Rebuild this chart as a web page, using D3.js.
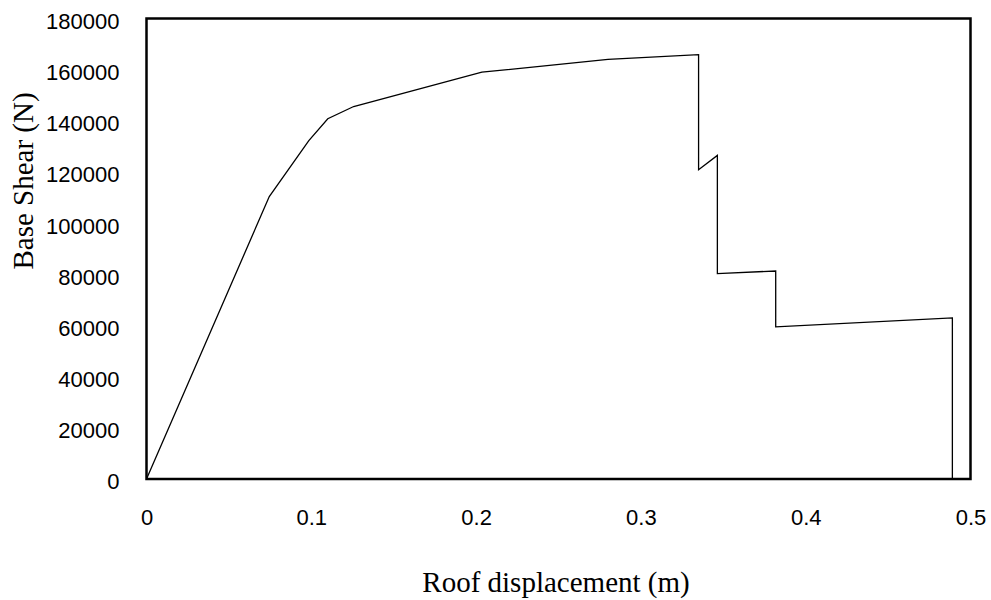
<!DOCTYPE html>
<html>
<head>
<meta charset="utf-8">
<script src="https://cdn.jsdelivr.net/npm/d3@7"></script>
<style>
  html, body { margin: 0; padding: 0; background: #fff; }
  svg { display: block; }
</style>
</head>
<body>
<svg id="chart" width="991" height="600"></svg>
<script>
const dispX = [0, 0.0745, 0.0985, 0.110, 0.1257, 0.2035, 0.28, 0.335, 0.335, 0.3464, 0.3464, 0.3818, 0.3818, 0.489, 0.489];
const shearY = [0, 110400, 132300, 140800, 145600, 159000, 164000, 165900, 120900, 126500, 80300, 81300, 59500, 63000, 0];
const xTicks = [0, 0.1, 0.2, 0.3, 0.4, 0.5];
const yTicks = [0, 20000, 40000, 60000, 80000, 100000, 120000, 140000, 160000, 180000];
const xTitle = "Roof displacement (m)";
const yTitle = "Base Shear (N)";

const svg = d3.select("#chart");
const plotL = 146.5, plotR = 970.5, plotT = 18.5, plotB = 479;

const x = d3.scaleLinear().domain([0, 0.5]).range([plotL, plotR]);
const y = d3.scaleLinear().domain([0, 180000]).range([plotB, plotT]);

const tickFont = "'Liberation Sans', Arial, sans-serif";
const titleFont = "'Liberation Serif', 'Times New Roman', serif";

// X axis labels
const gx = svg.append("g").attr("transform", `translate(0,${plotB})`)
  .call(d3.axisBottom(x).tickValues(xTicks).tickSize(0).tickPadding(30).tickFormat(d => String(d)));
gx.select(".domain").remove();
gx.selectAll("text").attr("font-family", tickFont).attr("font-size", 22).attr("fill", "#000");

// Y axis labels
const gy = svg.append("g").attr("transform", `translate(${plotL},0)`)
  .call(d3.axisLeft(y).tickValues(yTicks).tickSize(0).tickPadding(27).tickFormat(d3.format("d")));
gy.select(".domain").remove();
gy.selectAll("text").attr("font-family", tickFont).attr("font-size", 22).attr("fill", "#000").attr("dy", "0.45em");

// Data line
const pts = dispX.map((d, i) => [d, shearY[i]]);
svg.append("path")
  .datum(pts)
  .attr("fill", "none")
  .attr("stroke", "#000")
  .attr("stroke-width", 1.3)
  .attr("stroke-linejoin", "miter")
  .attr("d", d3.line().x(d => x(d[0])).y(d => y(d[1])));

// Frame
svg.append("rect")
  .attr("x", plotL).attr("y", plotT)
  .attr("width", plotR - plotL).attr("height", plotB - plotT)
  .attr("fill", "none").attr("stroke", "#000").attr("stroke-width", 2.5);

// Titles
svg.append("text")
  .attr("x", 556).attr("y", 592)
  .attr("text-anchor", "middle")
  .attr("font-family", titleFont).attr("font-size", 29).attr("fill", "#000")
  .text(xTitle);

svg.append("text")
  .attr("transform", `translate(33,181) rotate(-90)`)
  .attr("text-anchor", "middle")
  .attr("font-family", titleFont).attr("font-size", 29).attr("fill", "#000")
  .text(yTitle);
</script>
</body>
</html>
